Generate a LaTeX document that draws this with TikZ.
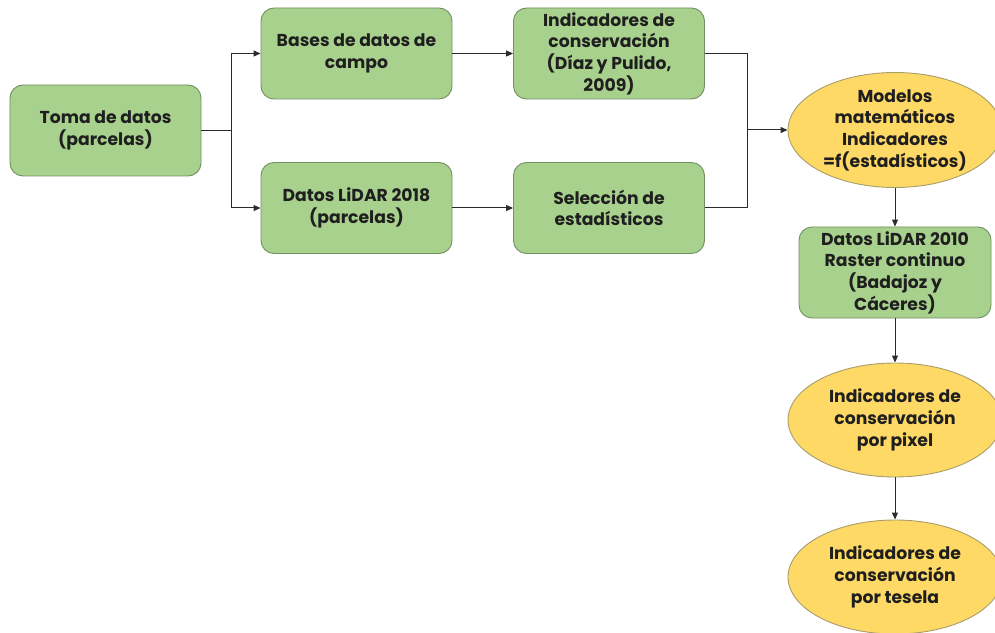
\documentclass[tikz,border=0pt]{standalone}
\usepackage{fontspec}
\setmainfont{Poppins}
\usetikzlibrary{shapes.geometric,arrows.meta,calc}

\definecolor{boxgreen}{HTML}{A9D18E}
\definecolor{boxgreenline}{HTML}{718F60}
\definecolor{ovalyellow}{HTML}{FFD966}
\definecolor{ovalline}{HTML}{A89D6A}
\definecolor{linkgray}{HTML}{2B2B2B}

\tikzset{
  labelfont/.style={font=\fontsize{17.3}{21.7}\selectfont\bfseries, text=black!88},
  greenbox/.style={draw=boxgreenline, fill=boxgreen, line width=0.9bp,
    rounded corners=13bp, minimum width=191bp, minimum height=91bp,
    align=center, inner sep=1bp, labelfont},
  yellowoval/.style={ellipse, draw=ovalline, fill=ovalyellow, line width=0.9bp,
    minimum width=214bp, minimum height=115bp, inner sep=0bp,
    align=center, labelfont},
  link/.style={draw=linkgray, line width=1bp},
  arrowlink/.style={link, -{Triangle[length=7bp,width=6bp]}},
}

\begin{document}
\begin{tikzpicture}[x=1bp, y=-1bp]
  \useasboundingbox (0,0) rectangle (995,633);
  \clip (0,0) rectangle (995,633);

  % first column: field data
  \node[greenbox] (toma) at (105.5,130.5) {Toma de datos\\(parcelas)};

  % second column
  \node[greenbox] (bases) at (356.5,53.5) {Bases de datos de\\campo};
  \node[greenbox] (lidar18) at (356.5,208) {Datos LiDAR 2018\\(parcelas)};

  % third column
  \node[greenbox] (indic) at (609,53.5) {Indicadores de\\conservación\\(Díaz y Pulido,\\2009)};
  \node[greenbox] (selec) at (609,208) {Selección de\\estadísticos};

  % right column: models and outputs
  \node[yellowoval] (modelos) at (895,130) {Modelos\\matemáticos\\Indicadores\\=f(estadísticos)};
  \node[greenbox, minimum width=192bp] (lidar10) at (895,272.5) {Datos LiDAR 2010\\Raster continuo\\(Badajoz y\\Cáceres)};
  \node[yellowoval, minimum height=114bp] (pixel) at (895,420) {Indicadores de\\conservación\\por pixel};
  \node[yellowoval, minimum height=114bp] (tesela) at (895,577) {Indicadores de\\conservación\\por tesela};

  % split and merge points
  \coordinate (split) at (231,130.5);
  \coordinate (merge) at (747,130);

  % connectors
  \draw[link] (toma.east) -- (split);
  \draw[arrowlink] (split) |- (bases.west);
  \draw[arrowlink] (split) |- (lidar18.west);
  \draw[arrowlink] (bases.east) -- (indic.west);
  \draw[arrowlink] (lidar18.east) -- (selec.west);
  \draw[link] (indic.east) -| (merge);
  \draw[link] (selec.east) -| (merge);
  \draw[arrowlink] (merge) -- (modelos.west);
  \draw[arrowlink] (modelos.south) -- (lidar10.north);
  \draw[arrowlink] (lidar10.south) -- (pixel.north);
  \draw[arrowlink] (pixel.south) -- (tesela.north);
\end{tikzpicture}
\end{document}
